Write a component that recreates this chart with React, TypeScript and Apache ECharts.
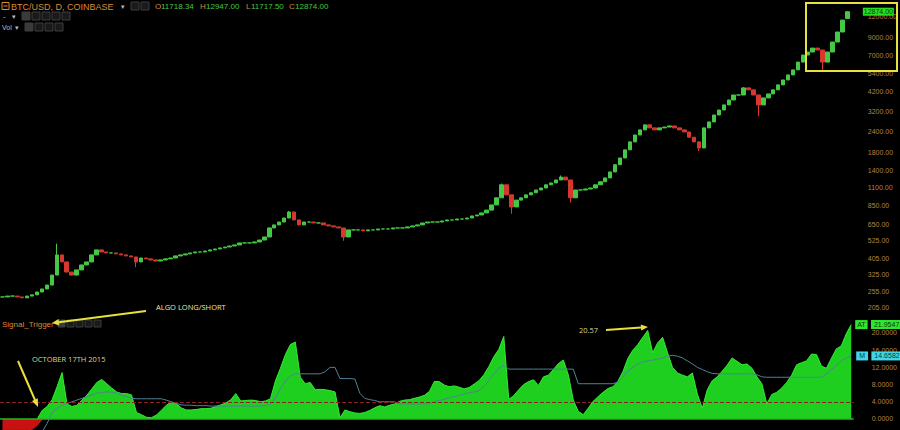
import React, { useEffect, useRef } from "react";
import * as echarts from "echarts";

// ---- price pane (BTC/USD daily, read every ~5 px) ----
const closes = [
  237, 240, 240, 237, 234, 240, 244, 254, 265, 280,
  322, 427, 387, 336, 322, 346, 371, 387, 427, 458,
  445, 439, 439, 433, 427, 421, 415, 387, 409, 404,
  398, 392, 398, 404, 409, 421, 427, 433, 439, 445,
  445, 451, 458, 464, 471, 477, 484, 491, 505, 505,
  505, 512, 526, 549, 623, 650, 677, 716, 779, 697,
  650, 677, 677, 668, 668, 650, 641, 632, 623, 549,
  606, 606, 606, 598, 606, 606, 614, 614, 614, 623,
  623, 623, 632, 641, 650, 668, 677, 677, 677, 687,
  697, 697, 706, 706, 716, 737, 747, 769, 800, 860,
  950, 1140, 990, 836, 920, 950, 990, 1020, 1060, 1090,
  1140, 1170, 1220, 1270, 1220, 950, 1060, 1060, 1075, 1090,
  1140, 1190, 1255, 1365, 1510, 1660, 1860, 2080, 2290, 2460,
  2640, 2530, 2460, 2530, 2560, 2600, 2530, 2460, 2390, 2220,
  2080, 1910, 2530, 2750, 3030, 3250, 3490, 3740, 4010, 4010,
  4430, 4310, 4010, 3490, 3850, 4070, 4310, 4620, 4950, 5310,
  5700, 6360, 7020, 7320, 7740, 7530, 6360, 7320, 8420, 9690,
  11450,
];
const lastOHLC = { open: 11718.34, high: 12947.0, low: 11717.5, close: 12874.0 };
const spikeHighs: [number, number][] = [[11, 500], [58, 790], [101, 1160], [113, 1300], [150, 4480]];
const spikeLows: [number, number][] = [[27, 360], [69, 520], [103, 760], [115, 890], [141, 1830], [153, 2980], [166, 5550]];
const priceTicks = [12000, 9000, 7000, 5400, 4200, 3200, 2400, 1800, 1400, 1100, 850, 650, 525, 405, 325, 255, 205];

// ---- Signal_Trigger pane ----
const signalValues = [
  -2.5, -2.5, -2.5, -2.5, -2.5, -2.5, -2.4, -1.5, 2.0, 2.9,
  4.5, 7.5, 10.8, 3.5, 2.9, 3.2, 4.4, 5.5, 7.0, 8.5,
  9.2, 8.2, 7.2, 6.3, 5.9, 5.9, 5.6, 1.5, 1.0, 0.4,
  0.3, 0.9, 2.0, 3.2, 3.9, 3.6, 2.6, 2.1, 2.1, 2.2,
  2.4, 2.4, 2.5, 2.9, 3.3, 3.7, 4.5, 5.9, 4.2, 4.3,
  4.4, 4.3, 4.0, 4.2, 4.7, 8.9, 11.8, 15.0, 17.3, 17.9,
  9.7, 8.2, 8.5, 6.8, 6.9, 6.8, 6.6, 6.3, 0.3, 2.1,
  1.7, 1.4, 1.3, 1.5, 2.0, 2.6, 3.1, 2.8, 3.2, 3.5,
  4.1, 4.4, 4.5, 4.8, 5.1, 5.5, 6.4, 8.7, 8.7, 7.9,
  7.5, 7.7, 7.4, 7.0, 7.3, 8.1, 8.9, 10.3, 12.2, 14.5,
  16.2, 19.2, 4.6, 5.4, 6.8, 8.0, 8.7, 9.1, 7.8, 9.8,
  10.2, 11.5, 12.9, 13.7, 10.3, 4.4, 1.8, 1.0, 2.5, 4.1,
  5.2, 6.2, 7.1, 7.5, 8.8, 11.0, 14.1, 16.0, 17.3, 19.0,
  20.57, 15.4, 17.7, 19.0, 15.4, 12.0, 10.7, 10.2, 9.8, 10.7,
  5.8, 2.5, 6.8, 8.9, 9.8, 11.1, 12.5, 14.2, 13.4, 12.6,
  12.8, 11.8, 9.8, 8.2, 3.5, 5.7, 6.2, 7.2, 8.5, 10.2,
  12.6, 13.1, 13.5, 15.1, 15.0, 12.3, 11.8, 14.1, 16.3, 17.0,
  19.8, 21.9547,
];
const signalMA: (number | null)[] = [
  null, null, null, null, null, null, null, null, -3.0, -1.0,
  1.5, 2.5, 3.2, 3.6, 4.0, 4.4, 4.8, 5.2, 5.6, 6.0,
  6.2, 6.3, 6.2, 6.0, 5.6, 5.2, 4.8, 4.7, 4.7, 4.7,
  4.7, 4.7, 4.7, 4.4, 4.0, 3.6, 3.3, 3.2, 3.2, 3.1,
  3.1, 3.1, 3.0, 3.0, 3.0, 3.0, 3.0, 3.0, 3.0, 3.0,
  3.0, 3.0, 3.0, 3.1, 3.5, 5.0, 7.0, 8.8, 10.0, 10.5,
  10.5, 10.5, 10.5, 10.5, 10.5, 11.0, 12.0, 12.0, 9.4, 9.4,
  9.4, 9.3, 6.0, 4.8, 4.5, 4.3, 4.0, 4.0, 4.0, 4.0,
  3.5, 3.5, 3.5, 3.5, 3.5, 3.5, 3.6, 4.0, 4.3, 4.6,
  4.9, 5.2, 5.5, 5.8, 6.1, 6.3, 6.6, 7.5, 9.0, 10.5,
  11.8, 12.4, 11.6, 11.6, 11.6, 11.6, 11.6, 11.6, 11.6, 11.6,
  11.6, 11.6, 11.6, 11.6, 11.6, 11.6, 8.2, 8.2, 8.2, 8.2,
  8.2, 8.2, 8.2, 8.2, 8.6, 9.8, 11.2, 12.0, 12.8, 13.3,
  13.5, 13.7, 13.9, 14.2, 14.6, 14.8, 14.6, 14.2, 13.5, 12.8,
  12.0, 11.5, 11.0, 10.6, 10.5, 10.5, 10.5, 10.5, 10.5, 10.5,
  10.5, 10.5, 10.3, 9.8, 9.7, 9.7, 9.7, 9.7, 9.7, 9.7,
  9.7, 9.7, 9.7, 9.7, 9.7, 9.7, 10.5, 11.5, 12.5, 13.5,
  14.2, 14.6582,
];
const signalTicks = [0, 4, 8, 12, 16, 20];
const triggerLevel = 4;

const FONT = "'Liberation Sans', Arial, sans-serif";
const ORANGE = "#dd8a32";
const GREEN = "#45c845";
const RED = "#d6372e";
const YELLOW = "#e8e03c";
const AXIS_TXT = "#b8823f";

function box(x: number, y: number, s = 8, light = false) {
  return {
    type: "rect",
    shape: { x, y, width: s, height: s },
    style: { fill: light ? "#3a3a3a" : "#1a1a1a", stroke: "#3c3c3c", lineWidth: 1 },
  };
}
function txt(text: string, x: number, y: number, fill: string, size = 8, align = "left", family = FONT) {
  return {
    type: "text",
    x,
    y,
    style: {
      text,
      fill,
      font: `${size}px ${family}`,
      textAlign: align,
      textVerticalAlign: "middle",
      align,
      verticalAlign: "middle",
    },
  };
}

export default function App() {
  const ref = useRef<HTMLDivElement>(null);

  useEffect(() => {
    document.body.style.margin = "0";
    document.body.style.background = "#000";
    const chart = echarts.init(ref.current!, null, { renderer: "svg" });

    const allCloses = [...closes, lastOHLC.close];
    const n = allCloses.length;
    const cats = allCloses.map((_, i) => String(i));
    const hiMap = new Map(spikeHighs);
    const loMap = new Map(spikeLows);
    const candles = allCloses.map((c, i) => {
      let o = i === 0 ? c : allCloses[i - 1];
      let h = Math.max(o, c);
      let l = Math.min(o, c);
      if (i === n - 1) {
        o = lastOHLC.open;
        h = lastOHLC.high;
        l = lastOHLC.low;
      }
      if (hiMap.has(i)) h = Math.max(h, hiMap.get(i)!);
      if (loMap.has(i)) l = Math.min(l, loMap.get(i)!);
      return [Math.log10(o), Math.log10(c), Math.log10(l), Math.log10(h)];
    });

    const greenData = signalValues.map((v, i) =>
      v >= 0 ? v : i + 1 < signalValues.length && signalValues[i + 1] >= 0 ? 0 : null
    );
    const redData = signalValues.map((v, i) =>
      v < 0 ? v : i > 0 && signalValues[i - 1] < 0 ? 0 : null
    );
    const lastSig = signalValues[signalValues.length - 1];
    const lastMA = signalMA[signalMA.length - 1] as number;

    const fmt = (v: number, d: number) => v.toFixed(d);

    const graphicEls: any[] = [
      // header row 1
      { type: "rect", shape: { x: 2, y: 2.5, width: 7, height: 7 }, style: { fill: "none", stroke: ORANGE, lineWidth: 1 } },
      { type: "line", shape: { x1: 3.5, y1: 6, x2: 7.5, y2: 6 }, style: { stroke: ORANGE, lineWidth: 1 } },
      txt("BTC/USD, D, COINBASE", 11, 6.5, ORANGE, 9),
      txt("▾", 121, 6.5, "#bbbbbb", 7),
      box(131, 2), box(141, 2),
      txt("O", 155, 6.5, ORANGE, 8), txt(fmt(lastOHLC.open, 2), 161, 6.5, GREEN, 8),
      txt("H", 200, 6.5, ORANGE, 8), txt(fmt(lastOHLC.high, 2), 206, 6.5, GREEN, 8),
      txt("L", 246, 6.5, ORANGE, 8), txt(fmt(lastOHLC.low, 2), 251, 6.5, GREEN, 8),
      txt("C", 289, 6.5, ORANGE, 8), txt(fmt(lastOHLC.close, 2), 295, 6.5, GREEN, 8),
      // row 2
      txt("-", 3, 16, "#bbbbbb", 8),
      txt("▾", 12, 16, "#bbbbbb", 7),
      box(22, 12, 8, true), box(32, 12), box(42, 12), box(52, 12), box(62, 12),
      // row 3
      txt("Vol", 2, 27, "#bbbbbb", 7),
      txt("▾", 15, 27, "#bbbbbb", 7),
      box(25, 23, 8, true), box(35, 23), box(45, 23), box(55, 23),
      // indicator title
      txt("Signal_Trigger", 2, 324, ORANGE, 8),
      box(58, 320, 7, true), box(67, 320, 7), box(76, 320, 7), box(85, 320, 7), box(94, 320, 7),
      // highlight box
      { type: "rect", shape: { x: 806, y: 3, width: 91, height: 68 }, style: { fill: "none", stroke: YELLOW, lineWidth: 2 }, z: 50 },
      // annotations
      txt("ALGO LONG/SHORT", 156, 307, "#ece6a6", 7.5, "left", "'Open Sans', sans-serif"),
      { type: "line", shape: { x1: 146, y1: 311, x2: 58.7, y2: 322.2 }, style: { stroke: YELLOW, lineWidth: 2 }, z: 50 },
      { type: "polygon", shape: { points: [[52, 323], [59.3, 325.4], [58.5, 318.9]] }, style: { fill: YELLOW }, z: 50 },
      txt("OCTOBER 17TH 2015", 32, 359, "#ddd58a", 7.5, "left", "'Open Sans', sans-serif"),
      { type: "line", shape: { x1: 18, y1: 361, x2: 35, y2: 400 }, style: { stroke: YELLOW, lineWidth: 2 }, z: 50 },
      { type: "polygon", shape: { points: [[38, 407], [37.8, 398.3], [32, 400.9]] }, style: { fill: YELLOW }, z: 50 },
      txt("20.57", 579, 330, "#ddd58a", 7.5, "left", "'Open Sans', sans-serif"),
      { type: "line", shape: { x1: 606, y1: 330, x2: 641, y2: 327.5 }, style: { stroke: YELLOW, lineWidth: 2 }, z: 50 },
      { type: "polygon", shape: { points: [[648, 327], [641.2, 330.6], [640.8, 324.4]] }, style: { fill: YELLOW }, z: 50 },
    ];

    chart.setOption({
      animation: false,
      backgroundColor: "#000000",
      grid: [
        { left: 0, right: 45, top: 0, height: 318 },
        { left: 0, right: 45, top: 316, height: 114 },
      ],
      xAxis: [
        { type: "category", data: cats, gridIndex: 0, show: false, boundaryGap: true },
        { type: "category", data: cats, gridIndex: 1, show: false, boundaryGap: true },
      ],
      yAxis: [
        {
          type: "value",
          gridIndex: 0,
          position: "right",
          min: 2.2467,
          max: 4.181,
          axisLine: { show: false },
          axisTick: { show: false },
          splitLine: { show: false },
          axisLabel: {
            customValues: priceTicks.map((p) => Math.log10(p)),
            formatter: (v: number) => Math.round(Math.pow(10, v)).toFixed(2),
            color: AXIS_TXT,
            fontSize: 7,
            fontFamily: FONT,
            margin: 18,
          },
        },
        {
          type: "value",
          gridIndex: 1,
          position: "right",
          min: -2.56,
          max: 23.95,
          axisLine: { show: false },
          axisTick: { show: false },
          splitLine: { show: false },
          axisLabel: {
            customValues: signalTicks,
            formatter: (v: number) => v.toFixed(4),
            color: AXIS_TXT,
            fontSize: 7,
            fontFamily: FONT,
            margin: 18,
          },
        },
      ],
      series: [
        {
          type: "candlestick",
          xAxisIndex: 0,
          yAxisIndex: 0,
          data: candles,
          barWidth: 4,
          itemStyle: { color: GREEN, color0: RED, borderColor: GREEN, borderColor0: RED, borderWidth: 1 },
          markPoint: {
            silent: true,
            data: [
              {
                coord: [cats[n - 1], Math.log10(lastOHLC.close)],
                symbol: "rect",
                symbolSize: [31, 8],
                symbolOffset: [31, 0],
                itemStyle: { color: "#25dd25" },
                label: { show: true, position: "inside", formatter: fmt(lastOHLC.close, 2), color: "#0b3a0b", fontSize: 7, fontFamily: FONT },
              },
            ],
          },
        },
        {
          name: "AT",
          type: "line",
          xAxisIndex: 1,
          yAxisIndex: 1,
          data: greenData,
          symbol: "none",
          lineStyle: { color: "#35ea35", width: 1 },
          areaStyle: { color: "#1fcf1f", opacity: 1 },
          z: 2,
          endLabel: {
            show: true,
            distance: 4,
            formatter: () => `{a|AT} {b|${lastSig.toFixed(4)}}`,
            rich: {
              a: { backgroundColor: "#2ee62e", color: "#0a3a0a", fontSize: 7, padding: [1, 2], fontFamily: FONT },
              b: { backgroundColor: "#2ee62e", color: "#0a3a0a", fontSize: 7, padding: [1, 3], fontFamily: FONT },
            },
          },
          markLine: {
            silent: true,
            symbol: "none",
            label: { show: false },
            data: [
              { yAxis: 0, lineStyle: { color: "#22b822", type: "solid", width: 1.5 } },
              { yAxis: triggerLevel, lineStyle: { color: "#8a2020", type: "dashed", width: 1 } },
            ],
          },
        },
        {
          type: "line",
          xAxisIndex: 1,
          yAxisIndex: 1,
          data: redData,
          symbol: "none",
          lineStyle: { color: "#cc1111", width: 1 },
          areaStyle: { color: "#c81212", opacity: 1 },
          z: 2,
        },
        {
          name: "M",
          type: "line",
          xAxisIndex: 1,
          yAxisIndex: 1,
          data: signalMA,
          symbol: "none",
          lineStyle: { color: "#4f8296", width: 1 },
          z: 3,
          endLabel: {
            show: true,
            distance: 5,
            formatter: () => `{a|M} {b|${lastMA.toFixed(4)}}`,
            rich: {
              a: { backgroundColor: "#3fd6e6", color: "#06363c", fontSize: 7, padding: [1, 3], fontFamily: FONT },
              b: { backgroundColor: "#3fd6e6", color: "#06363c", fontSize: 7, padding: [1, 3], fontFamily: FONT },
            },
          },
        },
      ],
      graphic: { elements: graphicEls },
    });

    return () => chart.dispose();
  }, []);

  return (
    <div
      ref={ref}
      style={{ position: "fixed", left: 0, top: 0, width: 900, height: 430, background: "#000" }}
    />
  );
}
